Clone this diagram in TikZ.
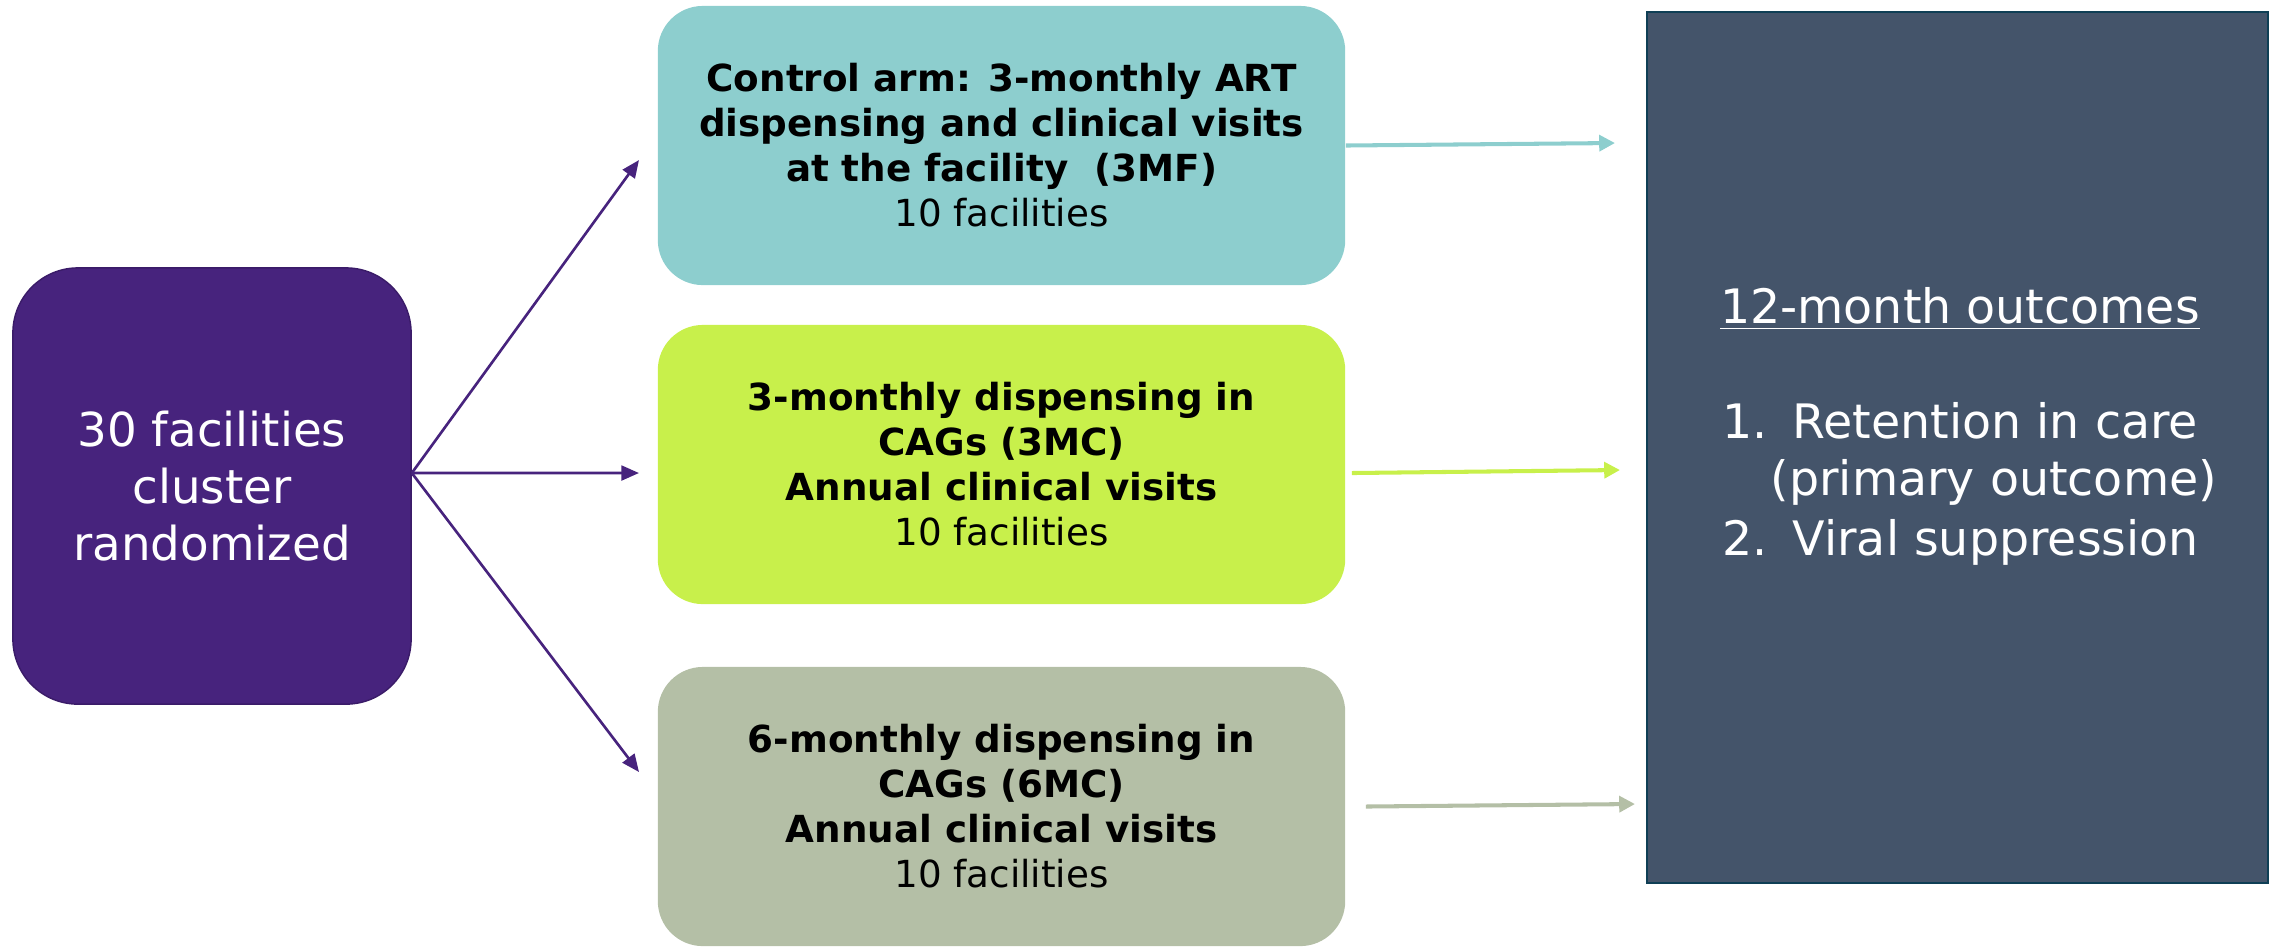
\documentclass[tikz,border=0pt]{standalone}
\usepackage{fontspec}
\setmainfont{DejaVu Sans}
\usepackage{xcolor}
\usetikzlibrary{arrows.meta}
\definecolor{custom_purple}{HTML}{47237D}
\definecolor{custom_purple_edge}{HTML}{3A1B68}
\definecolor{custom_teal}{HTML}{8DCECE}
\definecolor{custom_lime}{HTML}{C8F04B}
\definecolor{custom_sage}{HTML}{B4BFA6}
\definecolor{custom_slate}{HTML}{44546A}
\definecolor{custom_slate_edge}{HTML}{0F3F55}

\tikzset{
  armbox/.style={rounded corners=0.45cm, minimum width=6.87cm, minimum height=2.79cm,
    inner sep=0pt, align=center, font=\fontsize{10.6}{12.8}\selectfont},
  outtext/.style={inner sep=0pt, text=white, font=\fontsize{13.5}{16.6}\selectfont},
  splitarrow/.style={-{Triangle[length=5pt,width=4.2pt]}, line width=0.75pt, custom_purple},
  outarrow/.style={-{Triangle[length=4.5pt,width=4.5pt]}, line width=1.15pt},
}

\begin{document}
\begin{tikzpicture}[x=0.01cm, y=-0.01cm]
      \useasboundingbox (0,0) rectangle (2280,947);

      % randomisation
      \node[draw=custom_purple_edge, line width=0.4pt, fill=custom_purple, rounded corners=0.65cm,
        minimum width=3.98cm, minimum height=4.36cm, align=center, text=white,
        font=\fontsize{13.3}{16.2}\selectfont] (rand) at (212,486) {30 facilities\\cluster\\randomized};

      % the three arms
      \node[armbox, fill=custom_teal] (armA) at (1001.5,145.5)
        {\textbf{Control arm: 3-monthly ART}\\\textbf{dispensing and clinical visits}\\\textbf{at the facility\ \ (3MF)}\\10 facilities};
      \node[armbox, fill=custom_lime] (armB) at (1001.5,464.5)
        {\textbf{3-monthly dispensing in}\\\textbf{CAGs (3MC)}\\\textbf{Annual clinical visits}\\10 facilities};
      \node[armbox, fill=custom_sage] (armC) at (1001.5,806.5)
        {\textbf{6-monthly dispensing in}\\\textbf{CAGs (6MC)}\\\textbf{Annual clinical visits}\\10 facilities};

      % outcomes
      \node[draw=custom_slate_edge, line width=0.6pt, fill=custom_slate, minimum width=6.21cm,
        minimum height=8.71cm, inner sep=0pt] (outc) at (1957.5,447.5) {};
      \node[outtext, anchor=base] (outtitle) at (1960,323) {\underline{12-month outcomes}};
      \node[outtext, anchor=base west] (num1) at (1722,438) {1.};
      \node[outtext, anchor=base west] (item1) at (1792,438) {Retention in care};
      \node[outtext, anchor=base west] (item1b) at (1770,495) {(primary outcome)};
      \node[outtext, anchor=base west] (num2) at (1722,555) {2.};
      \node[outtext, anchor=base west] (item2) at (1792,555) {Viral suppression};

      % split arrows
      \coordinate (split) at ([yshift=0.13cm]rand.east);
      \coordinate (toA) at (639,160);
      \coordinate (toB) at (639,473);
      \coordinate (toC) at (639,772);
      \draw[splitarrow] (split) -- (toA);
      \draw[splitarrow] (split) -- (toB);
      \draw[splitarrow] (split) -- (toC);

      % arms to outcomes
      \coordinate (endA) at (1615,143);
      \coordinate (endB) at (1620,470);
      \coordinate (endC) at (1635,804);
      \draw[outarrow, custom_teal] (armA.east) -- (endA);
      \draw[outarrow, custom_lime] ([xshift=0.06cm, yshift=-0.085cm]armB.east) -- (endB);
      \draw[outarrow, custom_sage] ([xshift=0.2cm]armC.east) -- (endC);

    \end{tikzpicture}
\end{document}
